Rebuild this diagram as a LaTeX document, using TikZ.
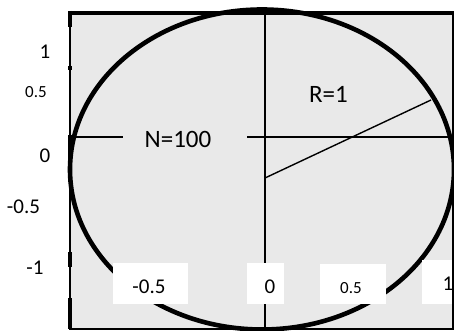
\documentclass[tikz,border=0pt]{standalone}
\usepackage{fontspec}
\setmainfont{Carlito}
\definecolor{paper}{RGB}{233,233,233}
\tikzset{
  lbl/.style={inner sep=0pt, font=\fontsize{21}{21}\selectfont},
  lblsmall/.style={inner sep=0pt, font=\fontsize{17}{17}\selectfont},
  lblbig/.style={inner sep=0pt, font=\fontsize{25}{25}\selectfont},
  thinline/.style={line width=1.4pt},
  whitebox/.style={fill=white, draw=none},
}
\begin{document}
\begin{tikzpicture}[x=1pt,y=-1pt]
\useasboundingbox (0,0) rectangle (454,331);
% paper background
\fill[paper] (70,12) rectangle (453,329);
% axes and radius
\coordinate (hl) at (70,137);
\coordinate (hm1) at (123,137);
\coordinate (hm2) at (247,137);
\coordinate (hr) at (453,137);
\coordinate (vt) at (265,12);
\coordinate (vb) at (265,329);
\coordinate (rc) at (265,178);
\coordinate (re) at (431,100);
\draw[thinline] (hl) -- (hm1);
\draw[thinline] (hm2) -- (hr);
\draw[thinline] (vt) -- (vb);
\draw[thinline] (rc) -- (re);
% circle drawn as ellipse
\coordinate (ec) at (262,169.5);
\draw[line width=4.6pt] (ec) ellipse [x radius=192, y radius=160];
% white label boxes
\fill[whitebox] (113,263) rectangle (188,304);
\fill[whitebox] (247,263) rectangle (284,304);
\fill[whitebox] (320,264) rectangle (386,304);
\fill[whitebox] (422,260) rectangle (454,304);
% frame
\draw[line width=4.5pt] (68,13) -- (454,13);
\draw[line width=1.2pt] (70,12) -- (70,329);
\draw[line width=4pt] (70,11) -- (70,27);
\draw[line width=4pt] (70,66) -- (70,70);
\draw[line width=4pt] (70,135) -- (70,182);
\draw[line width=4pt] (70,252) -- (70,267);
\draw[line width=4pt] (70,298) -- (70,329);
\draw[line width=2pt] (69,328.5) -- (453.5,328.5);
\draw[line width=1.2pt] (453,12) -- (453,329);
% texts
\node[lblbig] (n) at (178,139.5) {N=100};
\node[lblbig] (r) at (328.5,94.5) {R=1};
\node[lbl] (y1) at (45,52) {1};
\node[lblsmall] (y05) at (36,92) {0.5};
\node[lbl] (y0) at (45,156) {0};
\node[lbl] (ym05) at (23.5,207) {-0.5};
\node[lbl] (ym1) at (35,268) {-1};
\node[lbl] (xm05) at (149,287) {-0.5};
\node[lbl] (x0) at (270,287) {0};
\node[lblsmall] (x05) at (351,288) {0.5};
\node[lbl] (x1) at (448,284) {1};
\end{tikzpicture}
\end{document}
